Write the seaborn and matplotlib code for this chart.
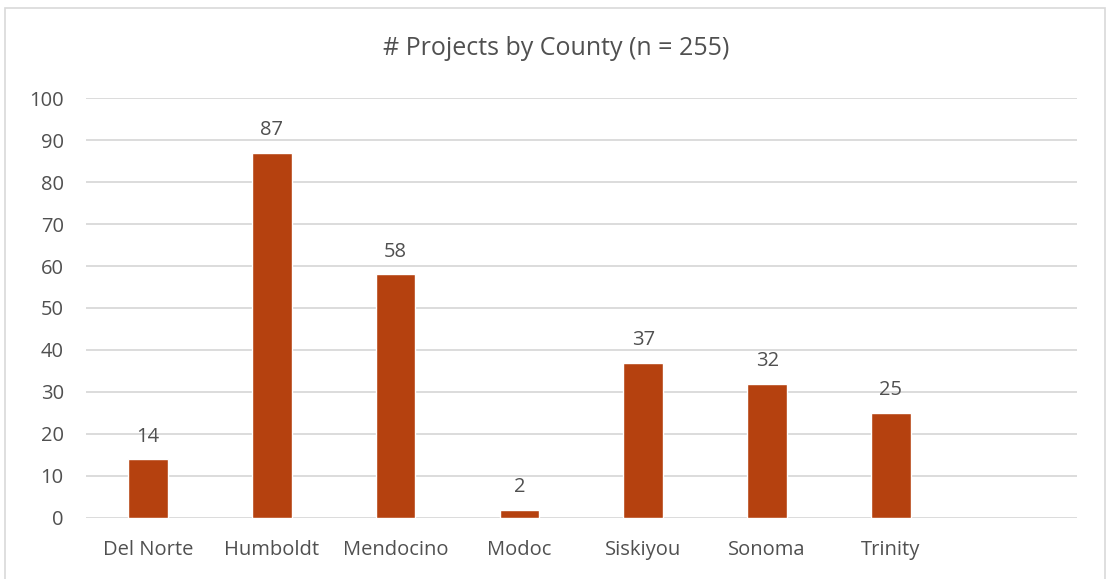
import matplotlib
matplotlib.use("Agg")
import matplotlib.pyplot as plt
import matplotlib.patches as mpatches
import pandas as pd
import seaborn as sns

# Data
counties = ["Del Norte", "Humboldt", "Mendocino", "Modoc", "Siskiyou", "Sonoma", "Trinity"]
projects = [14, 87, 58, 2, 37, 32, 25]
y_ticks = [0, 10, 20, 30, 40, 50, 60, 70, 80, 90, 100]

df = pd.DataFrame({"County": counties, "Projects": projects})

sns.set_theme(style="white")
plt.rcParams["font.family"] = ["Open Sans", "DejaVu Sans"]

bar_color = "#B5410F"
text_color = "#505050"
grid_color = "#D9D9D9"

fig = plt.figure(figsize=(11.12, 5.79), dpi=100)
ax = fig.add_axes([0.0773, 0.1054, 0.891, 0.7253])

sns.barplot(x="County", y="Projects", data=df, color=bar_color,
            width=0.32, saturation=1, ax=ax, zorder=3)

# Excel leaves an empty slot to the right of the last category
ax.set_xlim(-0.5, 7.5)
ax.set_ylim(0, 100)
ax.set_yticks(y_ticks)

ax.grid(axis="y", color=grid_color, linewidth=1.3, zorder=0)
ax.grid(axis="x", visible=False)
for side in ["top", "right", "left", "bottom"]:
    ax.spines[side].set_visible(False)

ax.tick_params(axis="both", length=0, labelsize=14.5, labelcolor=text_color)
ax.tick_params(axis="y", pad=16)
ax.tick_params(axis="x", pad=16)
ax.set_xlabel("")
ax.set_ylabel("")

# value labels above the bars
for i, v in enumerate(projects):
    ax.annotate(str(v), (i, v), xytext=(0, 9), textcoords="offset points",
                ha="center", va="bottom", fontsize=14.5, color=text_color)

fig.text(0.5, 0.917, "# Projects by County (n = 255)", ha="center", va="center",
         fontsize=18, color=text_color)

# light chart-area frame
frame = mpatches.Rectangle((0.0045, -0.05), 0.9895, 1.037, transform=fig.transFigure,
                           fill=False, edgecolor=grid_color, linewidth=1.2)
fig.patches.append(frame)

fig.savefig("out.png", dpi=100, facecolor="white")
